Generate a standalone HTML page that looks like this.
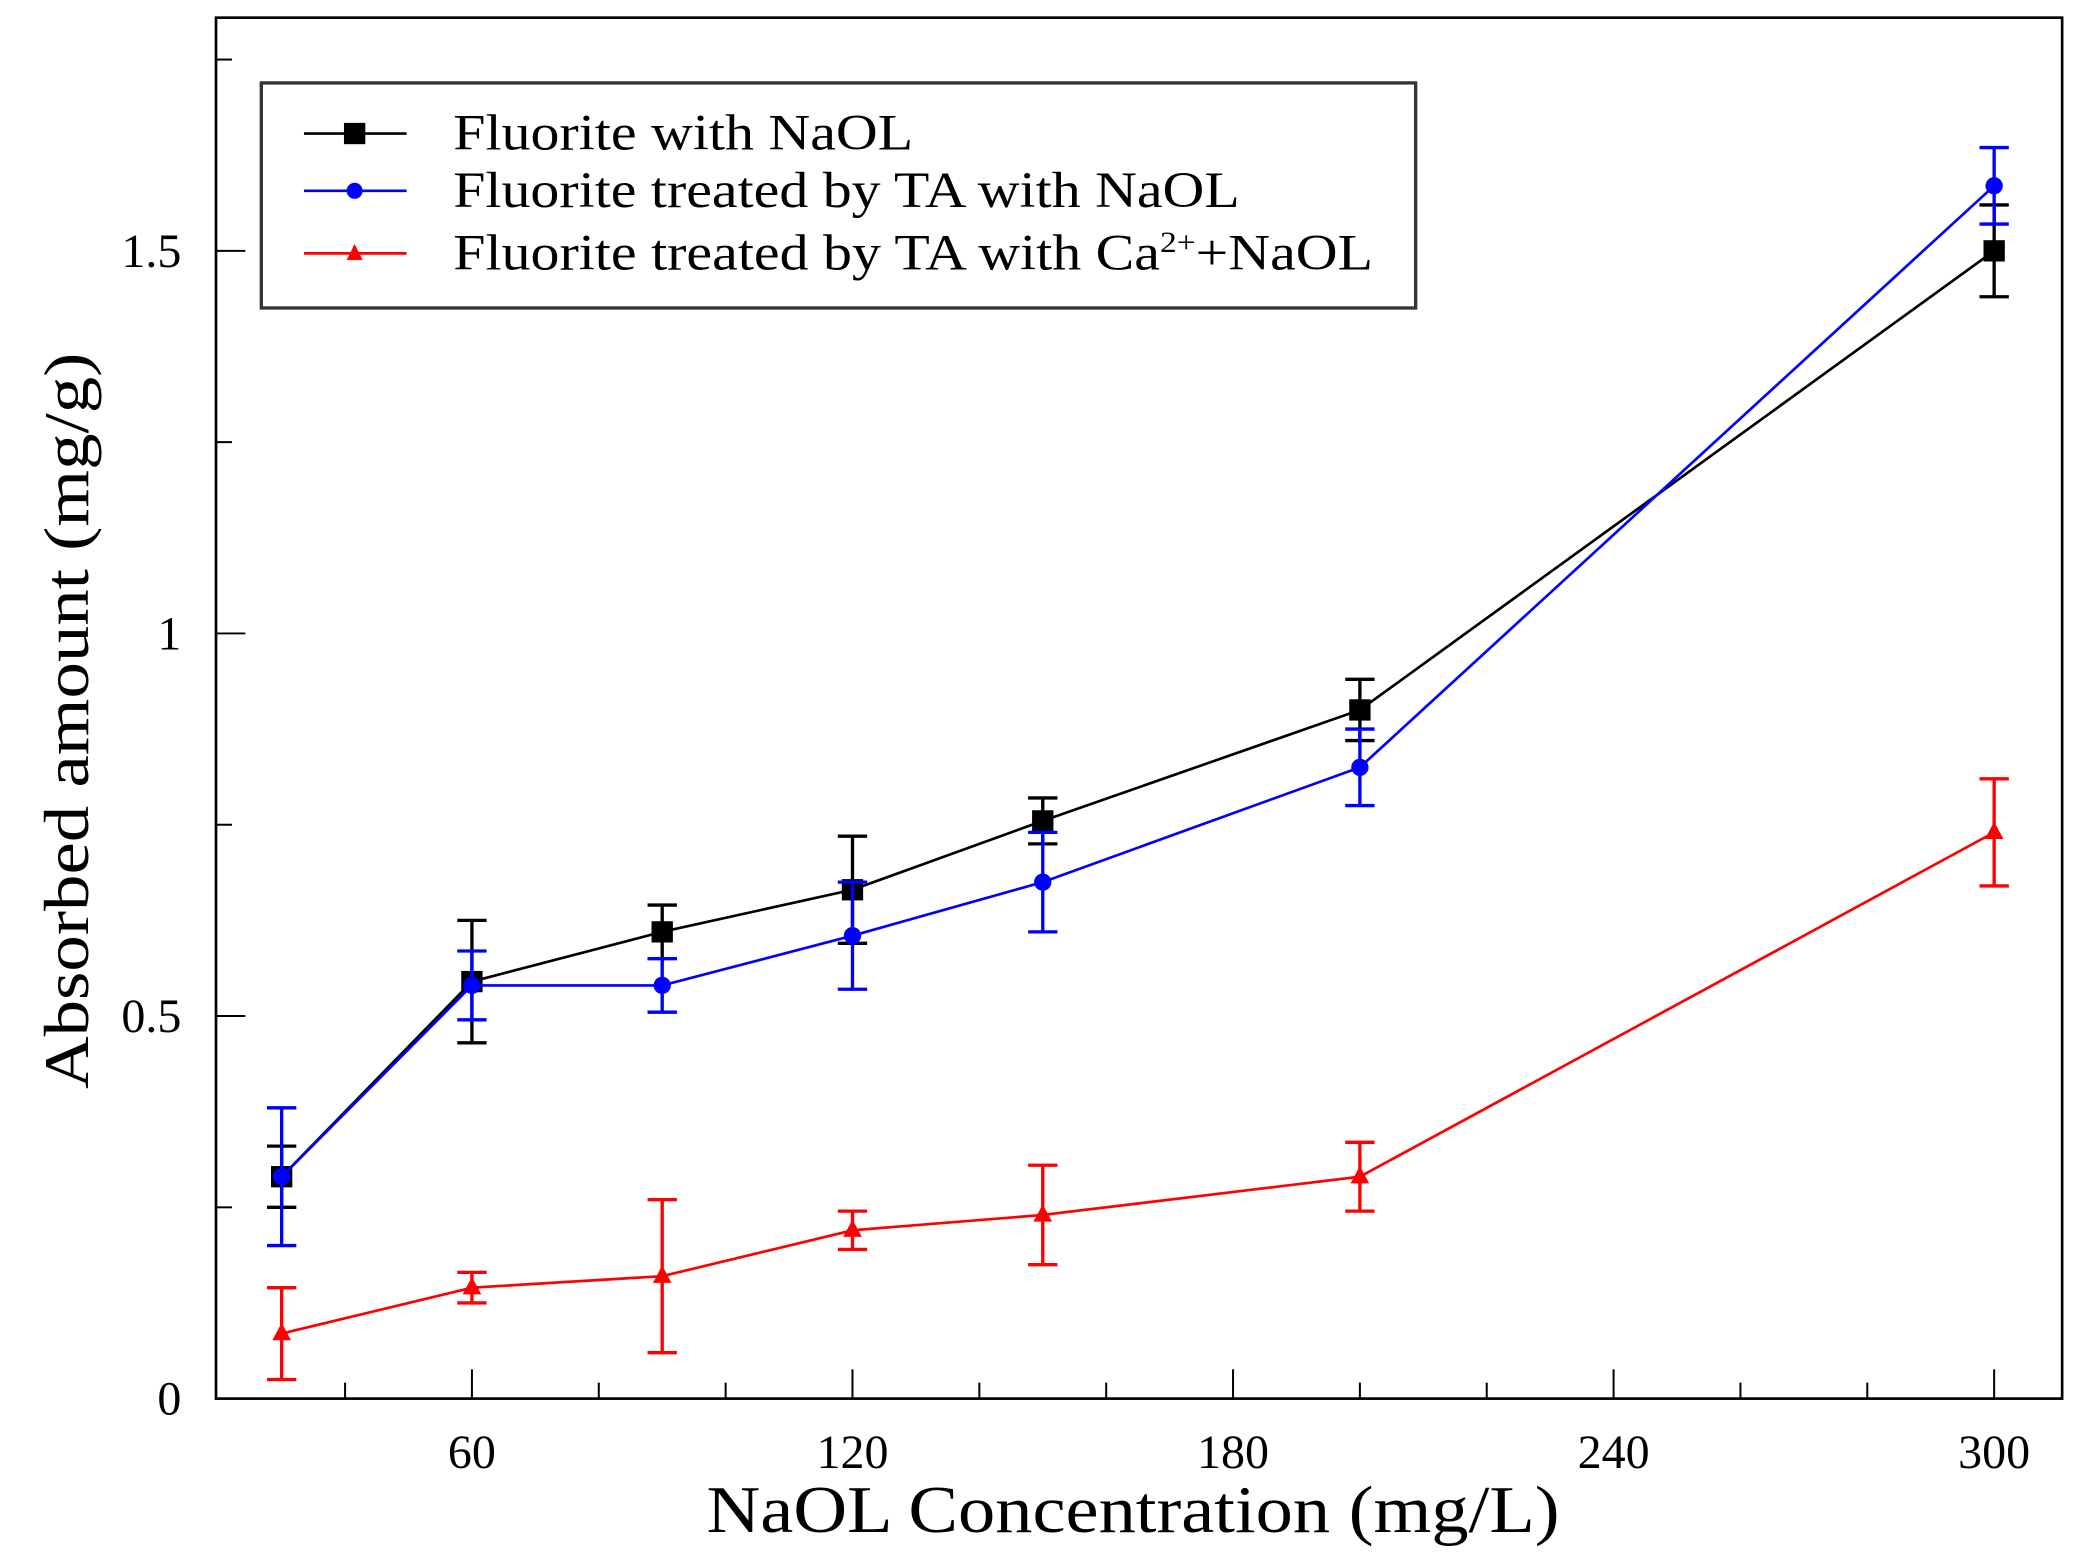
<!DOCTYPE html>
<html><head><meta charset="utf-8"><style>
html,body{margin:0;padding:0;background:#fff}
svg{display:block}
text{font-family:"Liberation Serif",serif;fill:#000}
</style></head><body>
<svg id="chart" width="2089" height="1566" viewBox="0 0 1560 1169.5" preserveAspectRatio="none" xmlns="http://www.w3.org/2000/svg">
<g transform="matrix(0.9954 0 0 0.9945 0.05 0.27)">
<g id="axes"></g>
<g id="series"></g>
<g id="legend"></g>
</g>
</svg>
<script>
const xValues = [30, 60, 90, 120, 150, 200, 300];
const blackValues = [0.29, 0.545, 0.61, 0.665, 0.755, 0.90, 1.50];
const blackErrors = [0.04, 0.08, 0.035, 0.07, 0.03, 0.04, 0.06];
const blueValues = [0.29, 0.54, 0.54, 0.605, 0.675, 0.825, 1.585];
const blueErrors = [0.09, 0.045, 0.035, 0.07, 0.065, 0.05, 0.05];
const redValues = [0.085, 0.145, 0.16, 0.22, 0.24, 0.29, 0.74];
const redErrors = [0.06, 0.02, 0.1, 0.025, 0.065, 0.045, 0.07];
const xTicks = [60, 120, 180, 240, 300];
const xMinorTicks = [40, 80, 100, 140, 160, 200, 220, 260, 280];
const yTicks = [0, 0.5, 1, 1.5];
const yTickLabels = ["0", "0.5", "1", "1.5"];
const yMinorTicks = [0.25, 0.75, 1.25, 1.75];
const seriesNames = ["Fluorite with NaOL", "Fluorite treated by TA with NaOL", "Fluorite treated by TA with Ca2++NaOL"];

const NS = "http://www.w3.org/2000/svg";
const L = 162, R = 1547, T = 13, B = 1050;
const xs = v => 68.5 + v * (285.5 / 60);
const ys = v => 1050 - v * (287.3 / 0.5);
function mk(parent, tag, attrs, txt) {
  const e = document.createElementNS(NS, tag);
  for (const k in attrs) e.setAttribute(k, attrs[k]);
  if (txt !== undefined) e.textContent = txt;
  parent.appendChild(e);
  return e;
}
const axes = document.getElementById('axes');
let f = mk(axes, 'rect', {x: L, y: T, width: R - L, height: B - T, fill: 'none', stroke: '#000', 'stroke-width': 2});


xTicks.forEach(t => {
  const x = xs(t);
  let l = mk(axes, 'line', {x1: x, x2: x, y1: B, y2: B - 22, stroke: '#000', 'stroke-width': 1.5});
  
  
  let tx = mk(axes, 'text', {x: x, y: 1102, 'text-anchor': 'middle', 'font-size': 36}, String(t));
  
  
});
xMinorTicks.forEach(t => {
  const x = xs(t);
  let l = mk(axes, 'line', {x1: x, x2: x, y1: B, y2: B - 12, stroke: '#000', 'stroke-width': 1.5});
  
  
});
yTicks.forEach((t, i) => {
  const y = ys(t);
  let l = mk(axes, 'line', {x1: L, x2: L + 22, y1: y, y2: y, stroke: '#000', 'stroke-width': 1.5});
  
  
  let tx = mk(axes, 'text', {x: 136, y: y + 12, 'text-anchor': 'end', 'font-size': 36}, yTickLabels[i]);
  
  
});
yMinorTicks.forEach(t => {
  const y = ys(t);
  let l = mk(axes, 'line', {x1: L, x2: L + 12, y1: y, y2: y, stroke: '#000', 'stroke-width': 1.5});
  
  
});
let xt = mk(axes, 'text', {x: 850, y: 1150, 'text-anchor': 'middle', 'font-size': 50, textLength: 640, lengthAdjust: 'spacingAndGlyphs'}, 'NaOL Concentration (mg/L)');


let yt = mk(axes, 'text', {x: 0, y: 0, 'text-anchor': 'middle', 'font-size': 48, textLength: 553, lengthAdjust: 'spacingAndGlyphs', transform: 'translate(66,541) rotate(-90)'}, 'Absorbed amount (mg/g)');



const series = document.getElementById('series');
function drawSeries(vals, errs, color, marker, name) {
  const g = mk(series, 'g', {});
  
  
  const pts = xValues.map((x, i) => xs(x) + ',' + ys(vals[i])).join(' ');
  mk(g, 'polyline', {points: pts, fill: 'none', stroke: color, 'stroke-width': 2});
  xValues.forEach((xv, i) => {
    const x = xs(xv), y1 = ys(vals[i] - errs[i]), y2 = ys(vals[i] + errs[i]);
    const eb = mk(g, 'path', {d: `M${x},${y1}V${y2}M${x - 11},${y1}H${x + 11}M${x - 11},${y2}H${x + 11}`, stroke: color, 'stroke-width': 2.5, fill: 'none'});
    
    
    const y = ys(vals[i]);
    let m;
    if (marker === 'square') m = mk(g, 'rect', {x: x - 8, y: y - 8, width: 16, height: 16, fill: color});
    else if (marker === 'circle') m = mk(g, 'circle', {cx: x, cy: y, r: 6.5, fill: color});
    else m = mk(g, 'polygon', {points: `${x},${y - 8} ${x - 7},${y + 5} ${x + 7},${y + 5}`, fill: color});
    
    
  });
}
drawSeries(redValues, redErrors, '#ff0000', 'triangle', 'series-ca-naol');
drawSeries(blackValues, blackErrors, '#000000', 'square', 'series-fluorite-naol');
drawSeries(blueValues, blueErrors, '#0000ff', 'circle', 'series-ta-naol');

const legend = document.getElementById('legend');
let lb = mk(legend, 'rect', {x: 196, y: 62, width: 866, height: 169, fill: '#fff', stroke: '#333', 'stroke-width': 2.5});


const legColors = ['#000', '#0000ff', '#ff0000'];
const legY = [100, 143, 190];
const legW = [345, 590, 690];
seriesNames.forEach((n, i) => {
  const g = mk(legend, 'g', {});
  
  
  const y = legY[i];
  mk(g, 'line', {x1: 228, x2: 305, y1: y, y2: y, stroke: legColors[i], 'stroke-width': 2});
  if (i === 0) mk(g, 'rect', {x: 258, y: y - 8, width: 16, height: 16, fill: '#000'});
  else if (i === 1) mk(g, 'circle', {cx: 266, cy: y, r: 6, fill: '#0000ff'});
  else mk(g, 'polygon', {points: `266,${y - 7} 260,${y + 5} 272,${y + 5}`, fill: '#ff0000'});
  const t = mk(g, 'text', {x: 340, y: y + 12, 'font-size': 38, textLength: legW[i], lengthAdjust: 'spacingAndGlyphs'});
  if (i === 2) {
    t.appendChild(document.createTextNode('Fluorite treated by TA with Ca'));
    mk(t, 'tspan', {'font-size': 22, dy: -13}, '2+');
    mk(t, 'tspan', {dy: 13}, '+NaOL');
  } else t.textContent = n;
});
</script>
</body></html>
